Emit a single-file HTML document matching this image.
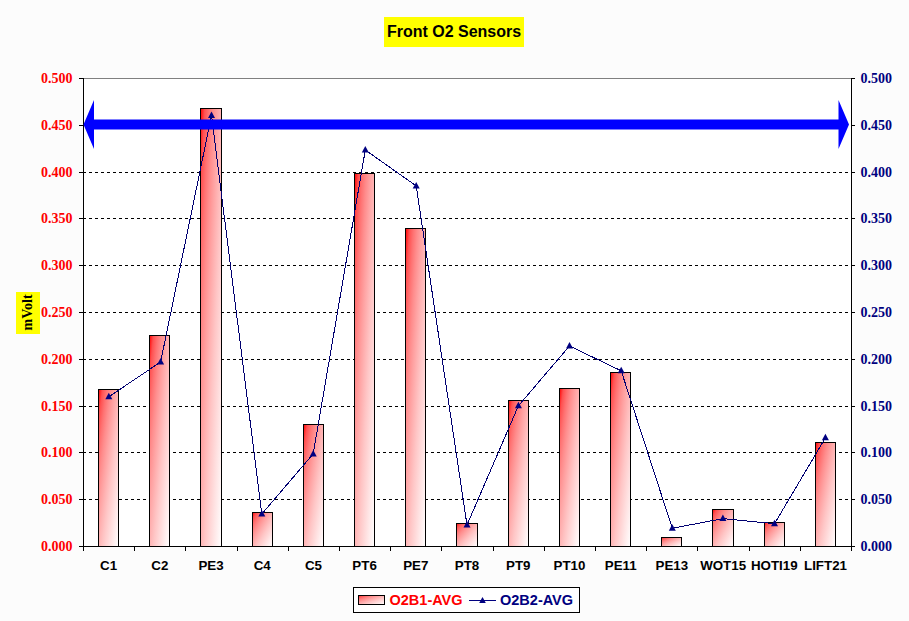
<!DOCTYPE html>
<html><head><meta charset="utf-8"><style>
html,body{margin:0;padding:0;background:#fcfcfc;width:909px;height:621px;overflow:hidden}
svg{display:block}
.s{font-family:"Liberation Sans",sans-serif;font-weight:bold}
.f{font-family:"Liberation Serif",serif;font-weight:bold}
</style></head><body>
<svg width="909" height="621" viewBox="0 0 909 621">
<defs>
<linearGradient id="g" x1="0" y1="0" x2="1" y2="1">
<stop offset="0.0" stop-color="rgb(255,0,0)"/><stop offset="0.1" stop-color="rgb(255,81,81)"/><stop offset="0.2" stop-color="rgb(255,114,114)"/><stop offset="0.3" stop-color="rgb(255,140,140)"/><stop offset="0.4" stop-color="rgb(255,161,161)"/><stop offset="0.5" stop-color="rgb(255,180,180)"/><stop offset="0.6" stop-color="rgb(255,198,198)"/><stop offset="0.7" stop-color="rgb(255,213,213)"/><stop offset="0.8" stop-color="rgb(255,228,228)"/><stop offset="0.9" stop-color="rgb(255,242,242)"/><stop offset="1.0" stop-color="rgb(255,255,255)"/>
</linearGradient>
</defs>
<rect x="0" y="0" width="909" height="621" fill="#fcfcfc"/>
<rect x="83" y="78" width="769" height="469" fill="#fff"/>

<line x1="83" y1="499.5" x2="851" y2="499.5" stroke="#000" stroke-width="1" stroke-dasharray="3 3"/>
<line x1="83" y1="452.5" x2="851" y2="452.5" stroke="#000" stroke-width="1" stroke-dasharray="3 3"/>
<line x1="83" y1="406.5" x2="851" y2="406.5" stroke="#000" stroke-width="1" stroke-dasharray="3 3"/>
<line x1="83" y1="359.5" x2="851" y2="359.5" stroke="#000" stroke-width="1" stroke-dasharray="3 3"/>
<line x1="83" y1="312.5" x2="851" y2="312.5" stroke="#000" stroke-width="1" stroke-dasharray="3 3"/>
<line x1="83" y1="265.5" x2="851" y2="265.5" stroke="#000" stroke-width="1" stroke-dasharray="3 3"/>
<line x1="83" y1="218.5" x2="851" y2="218.5" stroke="#000" stroke-width="1" stroke-dasharray="3 3"/>
<line x1="83" y1="172.5" x2="851" y2="172.5" stroke="#000" stroke-width="1" stroke-dasharray="3 3"/>
<line x1="83" y1="125.5" x2="851" y2="125.5" stroke="#000" stroke-width="1" stroke-dasharray="3 3"/>
<line x1="83" y1="78.5" x2="851" y2="78.5" stroke="#808080" stroke-width="1"/>
<rect x="98.5" y="389.5" width="20" height="157" fill="url(#g)" stroke="#000" stroke-width="1"/>
<rect x="149.5" y="335.5" width="20" height="211" fill="url(#g)" stroke="#000" stroke-width="1"/>
<rect x="200.5" y="108.5" width="21" height="438" fill="url(#g)" stroke="#000" stroke-width="1"/>
<rect x="252.5" y="512.5" width="20" height="34" fill="url(#g)" stroke="#000" stroke-width="1"/>
<rect x="303.5" y="424.5" width="20" height="122" fill="url(#g)" stroke="#000" stroke-width="1"/>
<rect x="354.5" y="173.5" width="20" height="373" fill="url(#g)" stroke="#000" stroke-width="1"/>
<rect x="405.5" y="228.5" width="20" height="318" fill="url(#g)" stroke="#000" stroke-width="1"/>
<rect x="456.5" y="523.5" width="21" height="23" fill="url(#g)" stroke="#000" stroke-width="1"/>
<rect x="508.5" y="400.5" width="20" height="146" fill="url(#g)" stroke="#000" stroke-width="1"/>
<rect x="559.5" y="388.5" width="20" height="158" fill="url(#g)" stroke="#000" stroke-width="1"/>
<rect x="610.5" y="372.5" width="20" height="174" fill="url(#g)" stroke="#000" stroke-width="1"/>
<rect x="661.5" y="537.5" width="20" height="9" fill="url(#g)" stroke="#000" stroke-width="1"/>
<rect x="712.5" y="509.5" width="21" height="37" fill="url(#g)" stroke="#000" stroke-width="1"/>
<rect x="764.5" y="522.5" width="20" height="24" fill="url(#g)" stroke="#000" stroke-width="1"/>
<rect x="815.5" y="442.5" width="20" height="104" fill="url(#g)" stroke="#000" stroke-width="1"/>
<line x1="83.5" y1="78" x2="83.5" y2="547" stroke="#000" stroke-width="1"/>
<line x1="851.5" y1="78" x2="851.5" y2="547" stroke="#000" stroke-width="1"/>
<line x1="83" y1="546.5" x2="852" y2="546.5" stroke="#000" stroke-width="1"/>
<line x1="79" y1="546.5" x2="83" y2="546.5" stroke="#000" stroke-width="1"/>
<line x1="852" y1="546.5" x2="855" y2="546.5" stroke="#000" stroke-width="1"/>
<line x1="79" y1="499.5" x2="83" y2="499.5" stroke="#000" stroke-width="1"/>
<line x1="852" y1="499.5" x2="855" y2="499.5" stroke="#000" stroke-width="1"/>
<line x1="79" y1="452.5" x2="83" y2="452.5" stroke="#000" stroke-width="1"/>
<line x1="852" y1="452.5" x2="855" y2="452.5" stroke="#000" stroke-width="1"/>
<line x1="79" y1="406.5" x2="83" y2="406.5" stroke="#000" stroke-width="1"/>
<line x1="852" y1="406.5" x2="855" y2="406.5" stroke="#000" stroke-width="1"/>
<line x1="79" y1="359.5" x2="83" y2="359.5" stroke="#000" stroke-width="1"/>
<line x1="852" y1="359.5" x2="855" y2="359.5" stroke="#000" stroke-width="1"/>
<line x1="79" y1="312.5" x2="83" y2="312.5" stroke="#000" stroke-width="1"/>
<line x1="852" y1="312.5" x2="855" y2="312.5" stroke="#000" stroke-width="1"/>
<line x1="79" y1="265.5" x2="83" y2="265.5" stroke="#000" stroke-width="1"/>
<line x1="852" y1="265.5" x2="855" y2="265.5" stroke="#000" stroke-width="1"/>
<line x1="79" y1="218.5" x2="83" y2="218.5" stroke="#000" stroke-width="1"/>
<line x1="852" y1="218.5" x2="855" y2="218.5" stroke="#000" stroke-width="1"/>
<line x1="79" y1="172.5" x2="83" y2="172.5" stroke="#000" stroke-width="1"/>
<line x1="852" y1="172.5" x2="855" y2="172.5" stroke="#000" stroke-width="1"/>
<line x1="79" y1="125.5" x2="83" y2="125.5" stroke="#000" stroke-width="1"/>
<line x1="852" y1="125.5" x2="855" y2="125.5" stroke="#000" stroke-width="1"/>
<line x1="79" y1="78.5" x2="83" y2="78.5" stroke="#000" stroke-width="1"/>
<line x1="852" y1="78.5" x2="855" y2="78.5" stroke="#000" stroke-width="1"/>
<line x1="83.5" y1="546" x2="83.5" y2="551" stroke="#000" stroke-width="1"/>
<line x1="134.5" y1="546" x2="134.5" y2="551" stroke="#000" stroke-width="1"/>
<line x1="185.5" y1="546" x2="185.5" y2="551" stroke="#000" stroke-width="1"/>
<line x1="237.5" y1="546" x2="237.5" y2="551" stroke="#000" stroke-width="1"/>
<line x1="288.5" y1="546" x2="288.5" y2="551" stroke="#000" stroke-width="1"/>
<line x1="339.5" y1="546" x2="339.5" y2="551" stroke="#000" stroke-width="1"/>
<line x1="390.5" y1="546" x2="390.5" y2="551" stroke="#000" stroke-width="1"/>
<line x1="441.5" y1="546" x2="441.5" y2="551" stroke="#000" stroke-width="1"/>
<line x1="493.5" y1="546" x2="493.5" y2="551" stroke="#000" stroke-width="1"/>
<line x1="544.5" y1="546" x2="544.5" y2="551" stroke="#000" stroke-width="1"/>
<line x1="595.5" y1="546" x2="595.5" y2="551" stroke="#000" stroke-width="1"/>
<line x1="646.5" y1="546" x2="646.5" y2="551" stroke="#000" stroke-width="1"/>
<line x1="697.5" y1="546" x2="697.5" y2="551" stroke="#000" stroke-width="1"/>
<line x1="749.5" y1="546" x2="749.5" y2="551" stroke="#000" stroke-width="1"/>
<line x1="800.5" y1="546" x2="800.5" y2="551" stroke="#000" stroke-width="1"/>
<line x1="851.5" y1="546" x2="851.5" y2="551" stroke="#000" stroke-width="1"/>
<polyline points="108.8,396.8 160.6,362 211.5,115.4 261.8,514 313.2,453.9 365.3,150 416.2,185.9 467,525 518.4,405.8 569.5,346 621.2,370.8 672.3,528.3 722.9,518.6 774.5,523.7 825.4,437.8" fill="none" stroke="#000070" stroke-width="1" shape-rendering="crispEdges"/>
<path d="M108.8 392.8 L112.3 399.3 L105.3 399.3 Z" fill="#000080"/>
<path d="M160.6 358 L164.1 364.5 L157.1 364.5 Z" fill="#000080"/>
<path d="M211.5 111.4 L215.0 117.9 L208.0 117.9 Z" fill="#000080"/>
<path d="M261.8 510 L265.3 516.5 L258.3 516.5 Z" fill="#000080"/>
<path d="M313.2 449.9 L316.7 456.4 L309.7 456.4 Z" fill="#000080"/>
<path d="M365.3 146 L368.8 152.5 L361.8 152.5 Z" fill="#000080"/>
<path d="M416.2 181.9 L419.7 188.4 L412.7 188.4 Z" fill="#000080"/>
<path d="M467 521 L470.5 527.5 L463.5 527.5 Z" fill="#000080"/>
<path d="M518.4 401.8 L521.9 408.3 L514.9 408.3 Z" fill="#000080"/>
<path d="M569.5 342 L573.0 348.5 L566.0 348.5 Z" fill="#000080"/>
<path d="M621.2 366.8 L624.7 373.3 L617.7 373.3 Z" fill="#000080"/>
<path d="M672.3 524.3 L675.8 530.8 L668.8 530.8 Z" fill="#000080"/>
<path d="M722.9 514.6 L726.4 521.1 L719.4 521.1 Z" fill="#000080"/>
<path d="M774.5 519.7 L778.0 526.2 L771.0 526.2 Z" fill="#000080"/>
<path d="M825.4 433.8 L828.9 440.3 L821.9 440.3 Z" fill="#000080"/>
<path d="M83.5 124.5 L94 100 L94 119.5 L838.5 119.5 L838.5 100 L849 124.5 L838.5 149 L838.5 129.5 L94 129.5 L94 149 Z" fill="#0000ff"/>
<text class="f" x="72.5" y="551" font-size="14" fill="#ff0000" text-anchor="end">0.000</text>
<text class="f" x="860.5" y="551" font-size="14" fill="#000080">0.000</text>
<text class="f" x="72.5" y="504" font-size="14" fill="#ff0000" text-anchor="end">0.050</text>
<text class="f" x="860.5" y="504" font-size="14" fill="#000080">0.050</text>
<text class="f" x="72.5" y="457" font-size="14" fill="#ff0000" text-anchor="end">0.100</text>
<text class="f" x="860.5" y="457" font-size="14" fill="#000080">0.100</text>
<text class="f" x="72.5" y="411" font-size="14" fill="#ff0000" text-anchor="end">0.150</text>
<text class="f" x="860.5" y="411" font-size="14" fill="#000080">0.150</text>
<text class="f" x="72.5" y="364" font-size="14" fill="#ff0000" text-anchor="end">0.200</text>
<text class="f" x="860.5" y="364" font-size="14" fill="#000080">0.200</text>
<text class="f" x="72.5" y="317" font-size="14" fill="#ff0000" text-anchor="end">0.250</text>
<text class="f" x="860.5" y="317" font-size="14" fill="#000080">0.250</text>
<text class="f" x="72.5" y="270" font-size="14" fill="#ff0000" text-anchor="end">0.300</text>
<text class="f" x="860.5" y="270" font-size="14" fill="#000080">0.300</text>
<text class="f" x="72.5" y="223" font-size="14" fill="#ff0000" text-anchor="end">0.350</text>
<text class="f" x="860.5" y="223" font-size="14" fill="#000080">0.350</text>
<text class="f" x="72.5" y="177" font-size="14" fill="#ff0000" text-anchor="end">0.400</text>
<text class="f" x="860.5" y="177" font-size="14" fill="#000080">0.400</text>
<text class="f" x="72.5" y="130" font-size="14" fill="#ff0000" text-anchor="end">0.450</text>
<text class="f" x="860.5" y="130" font-size="14" fill="#000080">0.450</text>
<text class="f" x="72.5" y="83" font-size="14" fill="#ff0000" text-anchor="end">0.500</text>
<text class="f" x="860.5" y="83" font-size="14" fill="#000080">0.500</text>
<text class="s" x="108.6" y="569.5" font-size="13.33" fill="#000" text-anchor="middle">C1</text>
<text class="s" x="159.8" y="569.5" font-size="13.33" fill="#000" text-anchor="middle">C2</text>
<text class="s" x="211.0" y="569.5" font-size="13.33" fill="#000" text-anchor="middle">PE3</text>
<text class="s" x="262.2" y="569.5" font-size="13.33" fill="#000" text-anchor="middle">C4</text>
<text class="s" x="313.4" y="569.5" font-size="13.33" fill="#000" text-anchor="middle">C5</text>
<text class="s" x="364.6" y="569.5" font-size="13.33" fill="#000" text-anchor="middle">PT6</text>
<text class="s" x="415.8" y="569.5" font-size="13.33" fill="#000" text-anchor="middle">PE7</text>
<text class="s" x="467.0" y="569.5" font-size="13.33" fill="#000" text-anchor="middle">PT8</text>
<text class="s" x="518.3" y="569.5" font-size="13.33" fill="#000" text-anchor="middle">PT9</text>
<text class="s" x="569.5" y="569.5" font-size="13.33" fill="#000" text-anchor="middle">PT10</text>
<text class="s" x="620.7" y="569.5" font-size="13.33" fill="#000" text-anchor="middle">PE11</text>
<text class="s" x="671.9" y="569.5" font-size="13.33" fill="#000" text-anchor="middle">PE13</text>
<text class="s" x="723.1" y="569.5" font-size="13.33" fill="#000" text-anchor="middle">WOT15</text>
<text class="s" x="774.3" y="569.5" font-size="13.33" fill="#000" text-anchor="middle">HOTI19</text>
<text class="s" x="825.5" y="569.5" font-size="13.33" fill="#000" text-anchor="middle">LIFT21</text>
<rect x="384" y="17" width="140" height="30" fill="#ffff00"/>
<text class="s" x="454" y="37" font-size="16" fill="#000" text-anchor="middle">Front O2 Sensors</text>
<rect x="16" y="292" width="24" height="42" fill="#ffff00"/>
<text class="f" transform="translate(31.5 330.5) rotate(-90)" x="0" y="0" font-size="14" fill="#000">mVolt</text>
<rect x="353.5" y="587.5" width="226" height="25" fill="#fff" stroke="#000" stroke-width="1"/>
<rect x="358.5" y="595.5" width="26" height="9" fill="url(#g)" stroke="#000" stroke-width="1"/>
<text class="s" x="389.5" y="605" font-size="14.5" fill="#ff0000">O2B1-AVG</text>
<line x1="469" y1="600.5" x2="496" y2="600.5" stroke="#000080" stroke-width="1"/>
<path d="M482.5 597 L485.8 603 L479.2 603 Z" fill="#000080"/>
<text class="s" x="500" y="605" font-size="14.5" fill="#000080">O2B2-AVG</text>
</svg></body></html>
